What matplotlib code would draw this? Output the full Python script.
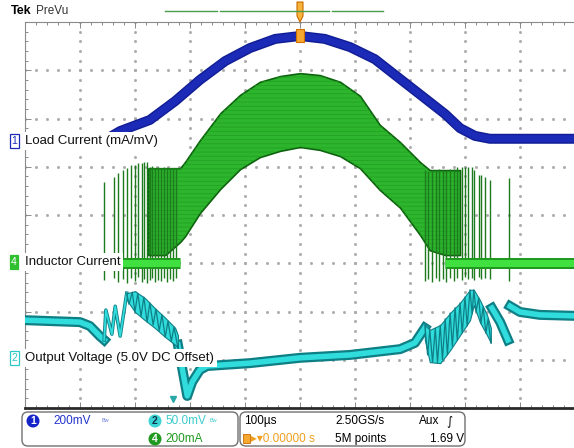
import numpy as np
import matplotlib.pyplot as plt
from matplotlib.patches import Rectangle, FancyBboxPatch, Circle, Polygon

W, H = 574, 448
PX = 0.72  # one pixel in points at dpi 100

# horizontal: time in µs (100 µs/div), vertical: screen divisions (8 div)
# Ch1 load current
blue_t = [-500, -400, -345, -327, -273, -227, -182, -136, -91, -45, 0,
          45, 91, 136, 182, 227, 264, 291, 318, 345, 500]
blue_v = [1.58, 1.58, 1.62, 1.74, 1.97, 2.36, 2.80, 3.19, 3.46, 3.65, 3.71,
          3.65, 3.48, 3.23, 2.82, 2.42, 2.09, 1.80, 1.64, 1.58, 1.58]

# Ch4 inductor current: ripple envelope
green_t = [-276, -245, -218, -209, -182, -145, -109, -73, -36, 0,
           36, 73, 109, 145, 182, 218, 236, 264, 291]
green_hi = [0.97, 0.97, 0.97, 1.10, 1.55, 2.11, 2.49, 2.76, 2.88, 2.94,
            2.90, 2.76, 2.47, 1.87, 1.51, 1.10, 0.93, 0.93, 0.93]
green_lo = [-0.83, -0.83, -0.56, -0.44, 0.04, 0.54, 0.95, 1.20, 1.33, 1.41,
            1.35, 1.22, 0.97, 0.52, 0.15, -0.41, -0.73, -0.83, -0.83]
green_base = -1.0
green_base_left = [-500, -218]
green_base_right = [264, 500]

# Ch4 burst pulses (light load) before and after the envelope
spk_left_t = [-356, -338, -331, -322, -315, -307, -300, -295, -287, -284, -278,
              -273, -269, -264, -258, -253, -247, -242, -236, -231, -225]
spk_left_top = [0.68, 0.79, 0.87, 0.93, 0.97, 1.04, 1.04, 1.08, 1.08, 1.10, 1.10,
                1.00, 1.02, 0.98, 1.00, 0.97, 0.99, 0.97, 0.98, 0.96, 0.97]
spk_left_bot = [-1.35, -1.30, -1.38, -1.33, -1.40, -1.30, -1.36, -1.28, -1.38, -1.33, -1.40,
                -1.35, -1.31, -1.39, -1.34, -1.37, -1.30, -1.38, -1.33, -1.36, -1.31]
spk_right_t = [227, 233, 240, 247, 253, 260, 266, 273, 280, 286,
               295, 300, 305, 313, 316, 325, 329, 336, 345, 380]
spk_right_top = [0.93, 0.92, 0.94, 0.93, 0.95, 0.93, 0.94, 0.95, 0.96, 1.00,
                 1.00, 1.00, 1.00, 1.00, 0.93, 0.83, 0.83, 0.79, 0.73, 0.77]
spk_right_bot = [-1.36, -1.32, -1.38, -1.30, -1.37, -1.33, -1.39, -1.31, -1.36, -1.30,
                 -1.34, -1.28, -1.33, -1.30, -1.35, -1.29, -1.32, -1.30, -1.33, -1.36]

# Ch2 output voltage
cyan_a_t = [-500, -400, -382, -364, -356]
cyan_a_v = [-2.18, -2.22, -2.30, -2.51, -2.59]
cyan_zig_t = [-356, -353, -342, -336, -327, -315]
cyan_zig_v = [-2.59, -1.97, -2.47, -1.89, -2.51, -1.62]
cyanL_t = [-315, -300, -282, -264, -245, -227, -222]
cyanL_hi = [-1.62, -1.58, -1.72, -1.93, -2.13, -2.34, -2.49]
cyanL_lo = [-1.76, -2.01, -2.18, -2.34, -2.53, -2.69, -2.76]
cyanL_teeth_t = [-315, -311, -305, -300, -295, -289, -284, -278, -273,
                 -267, -262, -256, -251, -245, -240, -234, -229, -222]
cyanL_teeth_v = [-1.62, -1.85, -1.60, -2.01, -1.62, -2.10, -1.70, -2.22, -1.82,
                 -2.28, -1.95, -2.40, -2.07, -2.53, -2.20, -2.62, -2.32, -2.76]
cyan_b_t = [-222, -213, -205, -196, -182, -169, -91, 0, 91, 182, 209, 227]
cyan_b_v = [-2.69, -3.25, -3.75, -3.46, -3.21, -3.13, -3.07, -2.96, -2.90, -2.78, -2.65, -2.34]
cyanR_t = [227, 236, 255, 273, 291, 309, 316, 327, 340, 347]
cyanR_hi = [-2.28, -2.38, -2.28, -2.03, -1.82, -1.55, -1.55, -1.76, -2.07, -2.34]
cyanR_lo = [-2.59, -3.05, -3.07, -2.80, -2.49, -2.18, -1.87, -2.22, -2.49, -2.65]
cyanR_teeth_t = [227, 232, 236, 241, 246, 250, 255, 259, 264, 268, 273, 277, 282, 286,
                 291, 295, 300, 304, 309, 313, 316, 320, 325, 329, 333, 338, 342, 347]
cyanR_teeth_v = [-2.28, -2.90, -2.38, -3.05, -2.35, -3.06, -2.28, -3.00, -2.15, -2.90,
                 -2.03, -2.72, -1.92, -2.60, -1.82, -2.45, -1.70, -2.30, -1.55, -2.05,
                 -1.55, -2.00, -1.72, -2.25, -1.90, -2.45, -2.15, -2.65]
cyan_c_t = [349, 364, 378]
cyan_c_v = [-1.93, -2.22, -2.59]
cyan_d_t = [382, 400, 436, 500]
cyan_d_v = [-1.89, -2.01, -2.07, -2.09]

BLUE_DK, BLUE = '#121e96', '#1b2bb8'
GREEN_DK, GREEN, LIME = '#0d620d', '#2db52d', '#3fe03f'
CYAN_DK, CYAN = '#0f7f86', '#30dcdc'
FONT = ['Liberation Sans', 'DejaVu Sans']

fig = plt.figure(figsize=(W / 100, H / 100), dpi=100)
fig.patch.set_facecolor('white')
ax = fig.add_axes([25 / W, 40 / H, 550 / W, 386 / H])
ax.set_xlim(-500, 500)
ax.set_ylim(-4, 4)

# graticule
for t in range(-400, 500, 100):
    ys = np.arange(-4, 4.01, 0.2)
    ax.plot([t] * len(ys), ys, ls='none', marker='s', ms=1.0, color='#aaaaaa', zorder=0)
for v in range(-3, 4):
    xs = np.arange(-500, 501, 20)
    ax.plot(xs, [v] * len(xs), ls='none', marker='s', ms=1.0, color='#aaaaaa', zorder=0)

ax.set_xticks(range(-500, 501, 100))
ax.set_xticks(np.arange(-500, 501, 20), minor=True)
ax.set_yticks(range(-4, 5))
ax.set_yticks(np.arange(-4, 4.01, 0.2), minor=True)
ax.tick_params(which='both', direction='in', top=True, bottom=True, left=True, right=False,
               labelbottom=False, labelleft=False, color='#8a8a8a', width=0.7)
ax.tick_params(which='major', length=4)
ax.tick_params(which='minor', length=2.5)
for s in ['top', 'left']:
    ax.spines[s].set_color('#8a8a8a')
    ax.spines[s].set_linewidth(0.8)
ax.spines['right'].set_visible(False)
ax.spines['bottom'].set_color('#2a2a2a')
ax.spines['bottom'].set_linewidth(2)

# Ch4 inductor current
plt.rcParams['hatch.linewidth'] = 0.5
ax.fill_between(green_t, green_lo, green_hi, facecolor=GREEN, edgecolor=GREEN_DK, lw=1.2, zorder=2)
ax.fill_between(green_t, green_lo, green_hi, facecolor='none', edgecolor='#229e22', hatch='----', lw=0, zorder=2)
ax.vlines(spk_left_t, spk_left_bot, spk_left_top, color='#1d7a1d', lw=1.0, zorder=2)
ax.vlines(spk_right_t, spk_right_bot, spk_right_top, color='#1d7a1d', lw=1.0, zorder=2)
for seg in (green_base_left, green_base_right):
    ax.plot(seg, [green_base] * 2, color='#1f9a1f', lw=11 * PX, solid_capstyle='butt', zorder=3)
    ax.plot(seg, [green_base] * 2, color=LIME, lw=7 * PX, solid_capstyle='butt', zorder=3)

# Ch1 load current
ax.plot(blue_t, blue_v, color=BLUE_DK, lw=10 * PX, solid_joinstyle='round', zorder=4)
ax.plot(blue_t, blue_v, color=BLUE, lw=7 * PX, solid_joinstyle='round', zorder=4)

# Ch2 output voltage
for tt, vv in ((cyan_a_t, cyan_a_v), (cyan_b_t, cyan_b_v), (cyan_c_t, cyan_c_v), (cyan_d_t, cyan_d_v)):
    ax.plot(tt, vv, color=CYAN_DK, lw=10 * PX, solid_joinstyle='round', zorder=4)
    ax.plot(tt, vv, color=CYAN, lw=5.5 * PX, solid_joinstyle='round', zorder=4)
ax.plot(cyan_zig_t, cyan_zig_v, color=CYAN_DK, lw=3.5 * PX, zorder=4)
ax.plot(cyan_zig_t, cyan_zig_v, color=CYAN, lw=1.8 * PX, zorder=4)
for tt, hi, lo, zt, zv in ((cyanL_t, cyanL_hi, cyanL_lo, cyanL_teeth_t, cyanL_teeth_v),
                           (cyanR_t, cyanR_hi, cyanR_lo, cyanR_teeth_t, cyanR_teeth_v)):
    ax.fill_between(tt, lo, hi, facecolor=CYAN, edgecolor=CYAN_DK, lw=0.8, zorder=4)
    ax.plot(zt, zv, color=CYAN_DK, lw=0.9, zorder=4)

# overlay in pixel coordinates for screen annotations
ov = fig.add_axes([0, 0, 1, 1], zorder=5)
ov.set_xlim(0, W)
ov.set_ylim(H, 0)
ov.axis('off')
ov.patch.set_alpha(0)

ov.text(11, 11, 'Tek', fontsize=9, fontweight='bold', family=FONT, va='center')
ov.text(36, 11, 'PreVu', fontsize=8.5, color='#333333', family=FONT, va='center')
for x0, x1 in ((165, 217), (220, 329), (332, 383)):
    ov.plot([x0, x1], [11, 11], color='#4a9e4a', lw=1)
ov.add_patch(Polygon([(297, 2), (303, 2), (303, 16), (300, 22), (297, 16)],
                     closed=True, fc='#f7b33a', ec='#c86a00', lw=0.8))
ov.add_patch(Rectangle((296, 29), 8, 13, fc='#f7a830', ec='#d07000', lw=0.8))
ov.plot([173], [399], marker='v', ms=4, color='#2aa7a7')

# channel labels
labels = [(141, '1', 'Load Current (mA/mV)', BLUE, 'white', BLUE),
          (262, '4', 'Inductor Current', '#2fbf2f', '#2fbf2f', 'white'),
          (358, '2', 'Output Voltage (5.0V DC Offset)', '#2fc8c8', 'white', '#2fc8c8')]
for y, num, txt, ec, fc, tc in labels:
    ov.text(25, y, txt, fontsize=9.5, family=FONT, ha='left', va='center', color='#111111',
            bbox=dict(boxstyle='square,pad=0.2', fc='white', ec='none'))
    ov.text(14, y, num, fontsize=7.5, color=tc, family=FONT, ha='center', va='center',
            bbox=dict(boxstyle='square,pad=0.15', fc=fc, ec=ec, lw=0.9))

# bottom readout
for x0, x1 in ((22, 238), (240, 465)):
    ov.add_patch(FancyBboxPatch((x0, 412), x1 - x0, 34, boxstyle='round,pad=0,rounding_size=6',
                                fc='white', ec='#707070', lw=1))
for (cx, cy), num, col, tcol in (((33, 421), '1', '#1424c8', 'white'),
                                 ((155, 421), '2', '#3ad4d4', '#10304a'),
                                 ((155, 439), '4', '#1f9a1f', 'white')):
    ov.add_patch(Circle((cx, cy), 6.5, fc=col, ec='none'))
    ov.text(cx, cy + 0.5, num, fontsize=7.5, fontweight='bold', color=tcol, family=FONT,
            ha='center', va='center')
ov.text(53, 421, '200mV', fontsize=8.5, color='#2233cc', family=FONT, va='center')
ov.text(101, 421, 'Bw', fontsize=4, color='#6a7ad8', family=FONT, va='center')
ov.text(165, 421, '50.0mV', fontsize=8.5, color='#3ccccc', family=FONT, va='center')
ov.text(209, 421, 'Bw', fontsize=4, color='#3ccccc', family=FONT, va='center')
ov.text(165, 439, '200mA', fontsize=8.5, color='#1f9a1f', family=FONT, va='center')
ov.text(244, 421, '100µs', fontsize=8.5, family=FONT, va='center')
ov.text(335, 421, '2.50GS/s', fontsize=8.5, family=FONT, va='center')
ov.text(419, 421, 'Aux', fontsize=8.5, family=FONT, va='center')
ov.text(446, 421, '∫', fontsize=8.5, family=['DejaVu Sans'], style='italic', va='center')
ov.add_patch(Rectangle((243, 434), 7, 9, fc='#f7a830', ec='#c86a00', lw=0.6))
ov.text(251, 439, '▸▾0.00000 s', fontsize=8.5, color='#f0a020', family=FONT, va='center')
ov.text(335, 439, '5M points', fontsize=8.5, family=FONT, va='center')
ov.text(430, 439, '1.69 V', fontsize=8.5, family=FONT, va='center')

fig.savefig('out.png', dpi=100)
